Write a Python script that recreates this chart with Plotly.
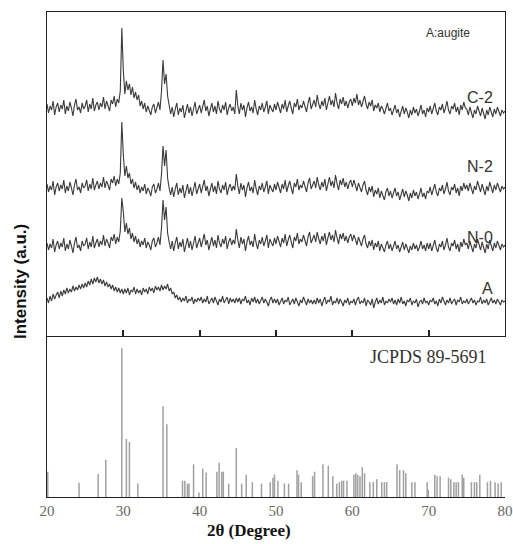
import plotly.graph_objects as go

# 2-theta grid: 20.0 .. 80.0 in 0.2 degree steps (301 points)
two_theta = [round(20 + 0.2 * i, 1) for i in range(301)]

c2 = [
    232,223,230,226,235,221,229,233,224,231,227,236,222,230,225,234,228,220,231,237,226,229,223,233,227,
    230,236,224,232,227,238,225,231,234,226,233,229,239,227,235,230,225,236,232,240,229,237,233,245,308,
    265,242,255,246,252,241,249,238,244,236,241,230,235,227,233,224,230,226,221,229,232,223,228,234,226,
    245,276,252,262,240,231,222,229,219,227,233,221,228,224,231,218,226,232,223,229,220,227,234,222,228,
    231,223,229,236,225,230,220,228,233,224,230,222,235,227,223,231,226,234,221,228,232,225,229,222,246,
    230,222,233,226,231,219,228,234,225,229,223,236,227,221,230,226,233,224,229,235,222,231,227,224,232,
    226,234,229,223,232,227,236,224,230,235,228,222,233,229,237,226,231,228,235,230,224,233,239,227,231,
    236,229,241,232,227,235,230,238,226,233,240,231,236,229,243,233,227,237,232,239,230,235,228,234,237,
    230,238,233,242,231,236,229,235,240,232,227,234,230,236,225,231,228,233,224,230,227,222,229,233,225,
    228,221,226,231,223,227,219,225,230,222,228,224,218,226,221,229,223,227,220,225,231,222,226,219,228,
    224,230,222,227,233,225,221,229,226,232,223,228,235,226,222,230,227,233,224,229,221,231,226,234,228,
    227,221,229,224,218,226,222,230,225,220,228,223,217,226,221,229,224,219,227,222,229,224,220,226,223,
    225]

n2 = [
    152,144,150,146,155,141,149,153,145,151,147,156,143,150,145,154,148,141,151,157,146,149,143,153,148,
    150,156,145,152,147,158,146,151,155,147,153,149,159,148,155,151,146,157,153,160,150,157,152,163,214,
    181,160,170,158,163,152,157,148,154,146,151,143,149,145,152,142,148,145,140,149,152,143,147,153,145,
    162,190,170,186,158,148,141,149,139,147,153,141,148,143,151,138,146,152,142,149,140,147,154,142,148,
    152,143,149,156,145,150,140,148,153,144,150,142,155,147,143,151,146,154,141,148,152,145,150,146,162,
    150,142,153,146,151,139,148,154,145,149,143,156,147,141,150,146,153,144,149,155,142,151,147,144,152,
    146,154,149,143,152,147,156,144,150,155,148,142,153,149,157,146,151,148,155,150,144,153,158,147,151,
    155,148,159,151,146,154,149,157,145,152,159,150,155,148,161,152,146,156,151,158,149,154,147,153,156,
    149,156,151,145,153,148,144,151,155,146,141,149,144,150,139,146,142,148,138,145,141,136,144,148,140,
    145,138,143,148,140,144,136,142,147,139,145,141,135,143,138,146,140,144,137,142,148,139,143,137,145,
    143,149,141,146,152,144,140,148,145,151,142,147,154,145,141,149,146,152,143,148,140,150,145,153,147,
    151,145,153,148,142,150,146,155,149,144,152,147,141,150,145,154,148,143,151,146,153,148,144,150,147,
    149]

n0 = [
    93,86,92,88,97,84,91,95,87,93,89,98,85,92,87,96,90,83,93,99,88,91,85,95,90,
    92,98,87,94,89,100,88,93,97,89,95,91,101,90,97,93,88,99,95,102,92,99,94,105,138,
    124,104,113,102,108,97,103,94,100,92,97,89,95,91,98,88,94,91,86,95,98,89,93,99,91,
    108,136,116,129,103,94,87,95,85,93,99,87,94,89,97,84,92,98,88,95,86,93,100,88,94,
    98,89,95,102,91,96,86,94,99,90,96,88,101,93,89,97,92,100,87,94,98,91,96,92,107,
    96,88,99,92,97,85,94,100,91,95,89,102,93,87,96,92,99,90,95,101,88,97,93,90,98,
    92,100,95,89,98,93,102,90,96,101,94,88,99,95,103,92,97,94,101,96,90,99,104,93,97,
    101,94,104,97,92,100,95,103,91,98,104,96,101,94,106,98,92,102,97,103,95,100,93,99,102,
    95,101,97,91,99,94,90,97,101,92,88,95,90,96,86,93,89,95,85,92,88,84,91,95,87,
    92,85,90,95,87,91,84,89,94,86,92,88,83,90,86,93,87,91,85,89,95,87,91,85,93,
    87,93,85,90,96,88,84,92,89,95,86,91,98,89,85,93,90,96,87,92,84,94,89,97,91,
    93,87,95,90,84,92,88,97,91,86,94,89,83,92,87,96,90,85,93,88,95,90,86,92,89,
    91]

sample_a = [
    38,33,40,35,42,37,41,44,38,45,40,46,42,48,43,47,44,50,45,49,46,51,47,52,48,
    53,49,55,51,57,52,58,54,59,53,57,52,56,50,54,49,52,47,51,45,49,44,48,43,47,
    42,47,43,48,41,46,44,49,42,47,43,46,41,48,44,47,42,49,45,48,43,50,46,49,45,
    51,46,50,47,52,45,48,42,44,38,41,36,39,34,38,35,40,33,37,35,39,32,37,34,38,
    35,39,33,37,34,40,32,36,38,33,39,35,31,37,34,40,33,36,39,32,38,34,37,33,38,
    34,38,32,37,35,40,33,36,31,38,34,39,33,37,32,36,39,33,37,34,30,36,39,33,37,
    33,37,31,35,38,32,36,34,39,31,35,37,32,38,34,30,36,33,39,34,31,37,33,36,32,
    36,32,38,33,37,30,35,39,32,36,34,40,31,35,33,38,32,37,34,30,36,33,38,31,35,
    33,37,31,36,39,32,35,33,38,30,36,34,31,37,28,34,38,32,36,33,39,31,35,33,37,
    34,38,32,36,31,37,33,39,32,35,30,36,34,38,31,35,33,37,29,34,36,32,38,33,35,
    31,36,34,38,32,35,30,37,33,39,34,31,36,33,38,32,35,37,31,36,34,39,32,35,33,
    37,32,35,38,33,36,31,35,34,39,32,36,33,37,31,35,38,33,36,32,37,34,31,36,34,
    35]

series_names = ["C-2", "N-2", "N-0", "A"]
series_values = [c2, n2, n0, sample_a]
series_label_y = [239, 170, 99, 48]

# JCPDS 89-5691 reference lines
ref_pos = [20.1, 24.2, 26.7, 27.7, 29.8, 30.4, 30.8, 31.9, 35.2, 35.7,
           37.75, 38.06, 38.4, 38.6, 39.2, 39.9, 40.4, 40.85, 42.25, 42.55,
           42.9, 43.1, 43.8, 44.8, 45.5, 46.1, 46.9, 48.1, 49.25, 49.6,
           49.8, 50.25, 51.1, 51.65, 52.75, 52.95, 53.3, 54.8, 55.05, 56.15,
           56.85, 57.45, 57.95, 58.3, 58.6, 58.85, 59.3, 60.2, 60.45, 60.7,
           61.0, 61.3, 61.6, 62.3, 62.75, 63.2, 63.85, 64.2, 64.5, 65.85,
           66.2, 66.7, 67.0, 67.8, 68.2, 69.8, 69.95, 70.8, 71.1, 71.5,
           72.6, 72.9, 73.3, 73.6, 73.9, 74.4, 74.6, 75.6, 76.0, 76.3,
           76.7, 77.7, 78.1, 78.7, 79.1, 79.5]
ref_int = [17, 9.6, 15.4, 25, 100, 39, 37, 9, 61, 49,
           11, 11, 9, 9, 22, 3, 19, 16.5, 17, 23,
           17, 17, 9, 33, 9, 15, 10, 9, 10, 13,
           15, 11, 9, 9, 18, 15, 10, 14, 17, 22,
           21, 14, 9, 10, 11, 11, 11, 15, 16, 15,
           14, 20, 16, 10, 10, 12, 10, 10, 10, 22,
           18, 18, 16, 10, 10, 10, 5, 15, 14, 14,
           13, 12, 10, 10, 10, 15, 13, 10, 10, 10,
           15, 10, 11, 10, 9, 10]

x_ticks = [20, 30, 40, 50, 60, 70, 80]

fig = go.Figure()

for name, vals in zip(series_names, series_values):
    fig.add_trace(go.Scatter(x=two_theta[:len(vals)], y=vals, mode="lines", name=name,
                             line=dict(color="#3a3a3a", width=1.1),
                             xaxis="x2", yaxis="y2", showlegend=False))

stick_x, stick_y = [], []
for p, h in zip(ref_pos, ref_int):
    stick_x += [p, p, None]
    stick_y += [0, h, None]
fig.add_trace(go.Scatter(x=stick_x, y=stick_y, mode="lines",
                         line=dict(color="#a0a0a0", width=1.5),
                         xaxis="x", yaxis="y", showlegend=False))

serif = "Liberation Serif, Times New Roman, serif"
sans = "Liberation Sans, Arial, sans-serif"

annotations = []
for name, ly in zip(series_names, series_label_y):
    annotations.append(dict(x=78.7, y=ly, xref="x2", yref="y2", text=name,
                            showarrow=False, xanchor="right", yanchor="middle",
                            font=dict(family=sans, size=16, color="#333")))
annotations.append(dict(x=72.5, y=303, xref="x2", yref="y2", text="A:augite",
                        showarrow=False, xanchor="center", yanchor="middle",
                        font=dict(family=sans, size=12, color="#333")))
annotations.append(dict(x=77.9, y=94, xref="x", yref="y", text="JCPDS 89-5691",
                        showarrow=False, xanchor="right", yanchor="middle",
                        font=dict(family=serif, size=18, color="#333")))
annotations.append(dict(x=249, y=530, text="<b>2θ (Degree)</b>",
                        showarrow=False, xanchor="center", yanchor="middle",
                        font=dict(family=serif, size=17, color="#111")))
annotations.append(dict(x=20, y=282, text="<b>Intensity (a.u.)</b>", showarrow=False,
                        textangle=-90, xanchor="center", yanchor="middle",
                        font=dict(family=sans, size=17, color="#111")))

# convert pixel-placed annotations to paper coords
L, R, T, B = 47, 8, 12, 47
W, H = 513, 544
pw, ph = W - L - R, H - T - B
for a in annotations[-2:]:
    a["x"] = (a["x"] - L) / pw
    a["y"] = (H - B - a["y"]) / ph
    a["xref"] = "paper"
    a["yref"] = "paper"

split = (497 - 336) / ph

fig.update_layout(
    width=W, height=H, margin=dict(l=L, r=R, t=T, b=B, autoexpand=False),
    paper_bgcolor="white", plot_bgcolor="white",
    annotations=annotations,
    xaxis=dict(domain=[0, 1], range=[20, 80], anchor="y", showgrid=False, zeroline=False,
               automargin=False,
               showline=True, linecolor="#222", linewidth=1.2, ticks="",
               tickvals=x_ticks, ticktext=[str(t) for t in x_ticks],
               tickfont=dict(family=serif, size=15, color="#666")),
    yaxis=dict(domain=[0, split], range=[0, 108.3], showgrid=False, zeroline=False,
               automargin=False,
               showline=True, linecolor="#222", linewidth=1.2, showticklabels=False, ticks=""),
    xaxis2=dict(domain=[0, 1], range=[20, 80], anchor="y2", showgrid=False, zeroline=False,
                automargin=False,
                showline=True, mirror=True, linecolor="#222", linewidth=1.2,
                ticks="inside", ticklen=6, tickwidth=1.5, tickcolor="#222",
                tickvals=[30, 40, 50, 60, 70], showticklabels=False),
    yaxis2=dict(domain=[split, 1], range=[0, 324], anchor="x2", showgrid=False, zeroline=False,
                automargin=False,
                showline=True, mirror=True, linecolor="#222", linewidth=1.2,
                showticklabels=False, ticks=""),
)

fig.write_html("out.html")
